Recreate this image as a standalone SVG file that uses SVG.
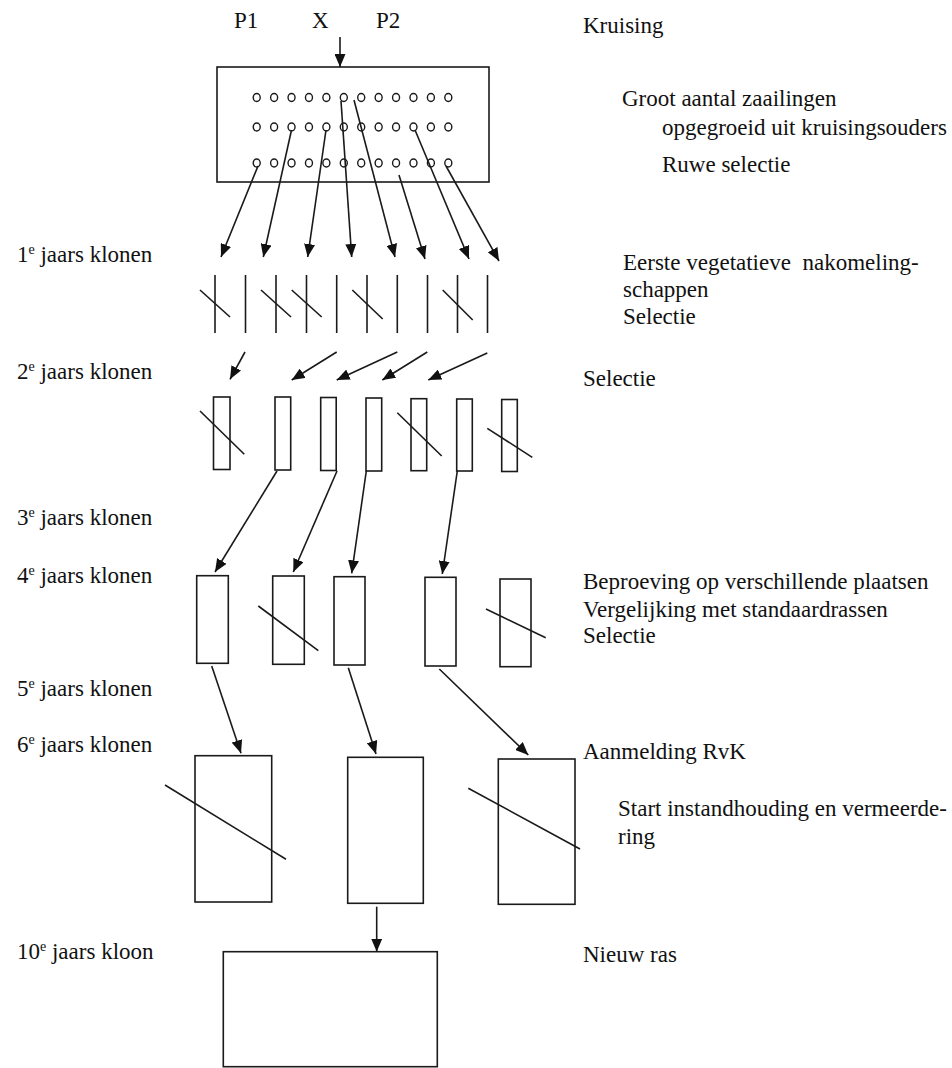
<svg xmlns="http://www.w3.org/2000/svg" width="952" height="1068" viewBox="0 0 952 1068">
  <style>
    text { font-size: 23px; fill: #111; }
    .sup { font-size: 14px; }
    .box { fill: none; stroke: #1a1a1a; stroke-width: 1.6; }
    .ln { fill: none; stroke: #1a1a1a; stroke-width: 1.6; }
    .seed { fill: none; stroke: #1a1a1a; stroke-width: 1.4; }
    .arr { fill: none; stroke: #1a1a1a; stroke-width: 1.6; marker-end: url(#head); }
  </style>
  <defs>
    <marker id="head" markerUnits="userSpaceOnUse" viewBox="0 0 13 11" refX="13" refY="5.5" markerWidth="13" markerHeight="11" orient="auto">
      <path d="M0,0 L13,5.5 L0,11 z" fill="#111"/>
    </marker>
    <g id="seedrow">
      <ellipse cx="0" cy="0" rx="3.5" ry="4"/>
      <ellipse cx="17.42" cy="0" rx="3.5" ry="4"/>
      <ellipse cx="34.84" cy="0" rx="3.5" ry="4"/>
      <ellipse cx="52.26" cy="0" rx="3.5" ry="4"/>
      <ellipse cx="69.68" cy="0" rx="3.5" ry="4"/>
      <ellipse cx="87.1" cy="0" rx="3.5" ry="4"/>
      <ellipse cx="104.52" cy="0" rx="3.5" ry="4"/>
      <ellipse cx="121.94" cy="0" rx="3.5" ry="4"/>
      <ellipse cx="139.36" cy="0" rx="3.5" ry="4"/>
      <ellipse cx="156.78" cy="0" rx="3.5" ry="4"/>
      <ellipse cx="174.2" cy="0" rx="3.5" ry="4"/>
      <ellipse cx="191.62" cy="0" rx="3.5" ry="4"/>
    </g>
  </defs>
  <rect width="952" height="1068" fill="#ffffff"/>

  <g font-family="Liberation Serif, Times New Roman, serif">
  <!-- parents and crossing -->
  <g id="parents">
    <text x="234" y="28" font-size="22">P1</text>
    <text x="312" y="28" font-size="22">X</text>
    <text x="376" y="28" font-size="22">P2</text>
  </g>
  </g>

  <!-- seedlings grown from the cross -->
  <g id="seedlings">
    <rect class="box" x="217" y="67" width="272" height="115"/>
    <g class="seed">
      <use href="#seedrow" x="256.7" y="97.5"/>
      <use href="#seedrow" x="256.7" y="127"/>
      <use href="#seedrow" x="256.7" y="163"/>
    </g>
  </g>

  <!-- first year clones: single plants, crossed ones are discarded -->
  <g id="clones-1">
    <line class="ln" x1="215" y1="275" x2="215" y2="333"/>
    <line class="ln" x1="245.5" y1="275" x2="245.5" y2="333"/>
    <line class="ln" x1="276" y1="275" x2="276" y2="333"/>
    <line class="ln" x1="306.5" y1="275" x2="306.5" y2="333"/>
    <line class="ln" x1="336.7" y1="275" x2="336.7" y2="333"/>
    <line class="ln" x1="367" y1="275" x2="367" y2="333"/>
    <line class="ln" x1="397.3" y1="275" x2="397.3" y2="333"/>
    <line class="ln" x1="427.5" y1="275" x2="427.5" y2="333"/>
    <line class="ln" x1="457.5" y1="275" x2="457.5" y2="333"/>
    <line class="ln" x1="487.5" y1="275" x2="487.5" y2="333"/>
    <line class="ln" x1="200" y1="290" x2="230" y2="317"/>
    <line class="ln" x1="261" y1="290" x2="291" y2="317"/>
    <line class="ln" x1="291.7" y1="290" x2="321.7" y2="317"/>
    <line class="ln" x1="352.3" y1="290" x2="382.7" y2="319"/>
    <line class="ln" x1="442.7" y1="290" x2="472.7" y2="320"/>
  </g>

  <!-- second year clones -->
  <g id="clones-2">
    <rect class="box" x="213.5" y="397" width="16.5" height="72.5"/>
    <rect class="box" x="275" y="397" width="15.7" height="73"/>
    <rect class="box" x="320.7" y="397.5" width="15.5" height="73"/>
    <rect class="box" x="366" y="398" width="15.7" height="73"/>
    <rect class="box" x="411" y="398.7" width="15.7" height="72"/>
    <rect class="box" x="456.7" y="399" width="15.6" height="72"/>
    <rect class="box" x="501.7" y="399.5" width="15.6" height="72"/>
    <line class="ln" x1="200" y1="411" x2="244.3" y2="454.3"/>
    <line class="ln" x1="397.3" y1="412.7" x2="441.7" y2="456"/>
    <line class="ln" x1="487.3" y1="428.3" x2="532.3" y2="457.3"/>
  </g>

  <!-- fourth year clones -->
  <g id="clones-4">
    <rect class="box" x="196.7" y="575.7" width="31.6" height="87.6"/>
    <rect class="box" x="272.7" y="576" width="31.6" height="88.3"/>
    <rect class="box" x="334" y="576.7" width="31" height="88.3"/>
    <rect class="box" x="425" y="577.3" width="31" height="88.7"/>
    <rect class="box" x="500" y="579" width="31" height="87.7"/>
    <line class="ln" x1="258.3" y1="606" x2="318.3" y2="650.7"/>
    <line class="ln" x1="486" y1="609" x2="545.7" y2="637.7"/>
  </g>

  <!-- sixth year clones -->
  <g id="clones-6">
    <rect class="box" x="195" y="755.7" width="76.7" height="146.3"/>
    <rect class="box" x="347.7" y="757.3" width="75.6" height="146"/>
    <rect class="box" x="498.3" y="759" width="76.7" height="145.3"/>
    <line class="ln" x1="165" y1="785" x2="286" y2="859.3"/>
    <line class="ln" x1="468.3" y1="788.3" x2="580" y2="849"/>
  </g>

  <!-- new variety -->
  <g id="new-variety">
    <rect class="box" x="223.3" y="951.7" width="214" height="115"/>
  </g>

  <!-- connectors -->
  <g id="connectors">
    <line class="arr" x1="340" y1="37" x2="340" y2="67"/>

    <line class="arr" x1="258" y1="166" x2="221" y2="257"/>
    <line class="arr" x1="291.5" y1="130" x2="263.3" y2="257"/>
    <line class="arr" x1="326" y1="130" x2="307.7" y2="257"/>
    <line class="arr" x1="341" y1="101" x2="351.7" y2="257"/>
    <line class="arr" x1="354" y1="100" x2="395" y2="257"/>
    <line class="arr" x1="399" y1="175" x2="425" y2="259"/>
    <line class="arr" x1="415" y1="130" x2="469" y2="259"/>
    <line class="arr" x1="446" y1="166" x2="499" y2="261"/>

    <line class="arr" x1="245" y1="352" x2="230" y2="379.3"/>
    <line class="arr" x1="336.7" y1="352" x2="291.7" y2="380"/>
    <line class="arr" x1="397.3" y1="352" x2="336.7" y2="380"/>
    <line class="arr" x1="427.3" y1="352" x2="382.3" y2="380"/>
    <line class="arr" x1="487.3" y1="353" x2="428.3" y2="380"/>

    <line class="arr" x1="277" y1="471" x2="215" y2="572"/>
    <line class="arr" x1="337" y1="471" x2="293.3" y2="572"/>
    <line class="arr" x1="366.3" y1="471" x2="351.7" y2="573.3"/>
    <line class="arr" x1="457.3" y1="471" x2="442.3" y2="574"/>

    <line class="arr" x1="211.7" y1="666" x2="241" y2="753.3"/>
    <line class="arr" x1="348.3" y1="667.7" x2="376" y2="754"/>
    <line class="arr" x1="439.3" y1="669" x2="528.3" y2="755"/>

    <line class="arr" x1="376.7" y1="906.7" x2="376.7" y2="951.7"/>
  </g>

  <g font-family="Liberation Serif, Times New Roman, serif">
  <!-- stage labels, left -->
  <g id="stage-labels">
    <text x="17" y="262">1<tspan class="sup" dy="-8">e</tspan><tspan dy="8"> jaars klonen</tspan></text>
    <text x="17" y="379">2<tspan class="sup" dy="-8">e</tspan><tspan dy="8"> jaars klonen</tspan></text>
    <text x="17" y="525">3<tspan class="sup" dy="-8">e</tspan><tspan dy="8"> jaars klonen</tspan></text>
    <text x="17" y="583">4<tspan class="sup" dy="-8">e</tspan><tspan dy="8"> jaars klonen</tspan></text>
    <text x="17" y="696">5<tspan class="sup" dy="-8">e</tspan><tspan dy="8"> jaars klonen</tspan></text>
    <text x="17" y="752">6<tspan class="sup" dy="-8">e</tspan><tspan dy="8"> jaars klonen</tspan></text>
    <text x="17" y="959">10<tspan class="sup" dy="-8">e</tspan><tspan dy="8"> jaars kloon</tspan></text>
  </g>

  <!-- activity labels, right -->
  <g id="activity-labels">
    <text x="583" y="33">Kruising</text>
    <text x="622" y="106">Groot aantal zaailingen</text>
    <text x="662" y="135">opgegroeid uit kruisingsouders</text>
    <text x="662" y="172">Ruwe selectie</text>
    <text x="623" y="270" xml:space="preserve">Eerste vegetatieve  nakomeling-</text>
    <text x="623" y="297">schappen</text>
    <text x="623" y="324">Selectie</text>
    <text x="583" y="386">Selectie</text>
    <text x="583" y="589">Beproeving op verschillende plaatsen</text>
    <text x="583" y="617">Vergelijking met standaardrassen</text>
    <text x="583" y="643">Selectie</text>
    <text x="583" y="759">Aanmelding RvK</text>
    <text x="618" y="816">Start instandhouding en vermeerde-</text>
    <text x="618" y="844">ring</text>
    <text x="583" y="962">Nieuw ras</text>
  </g>
  </g>
</svg>
